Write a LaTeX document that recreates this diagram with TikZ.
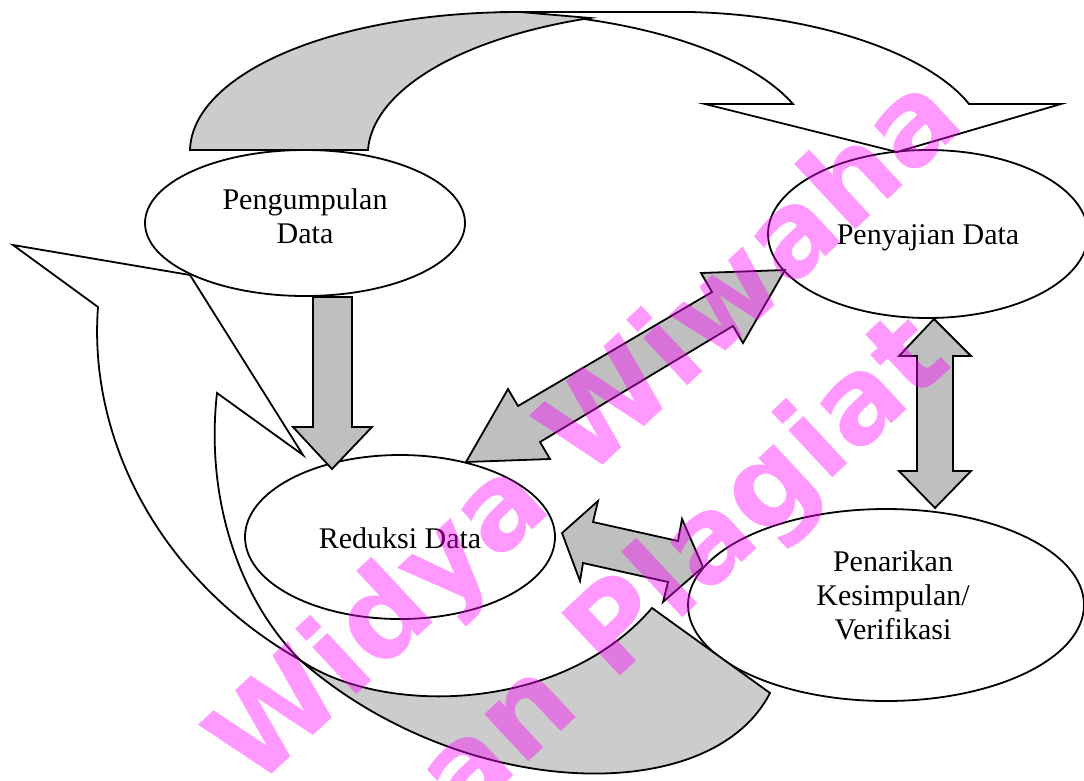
\documentclass[tikz,border=0pt]{standalone}
\usepackage{fontspec}
\setmainfont{Liberation Serif}
\newfontfamily\tandafont{DejaVu Sans}
\usetikzlibrary{shapes.geometric}
\definecolor{merahmuda}{RGB}{255,0,255}

\begin{document}
\begin{tikzpicture}[x=1pt,y=-1pt,
  proses/.style={ellipse, draw, line width=1.8pt, fill=white, inner sep=0pt},
  teks/.style={align=center, font=\fontsize{30}{34}\selectfont},
  blok/.style={draw, line width=1.8pt, fill=black!25, line join=miter},
  lengkung/.style={draw, line width=1.8pt, fill=black!20},
  tanda/.style={text=merahmuda, text opacity=0.4, rotate=43, font=\tandafont\bfseries\fontsize{118}{124}\selectfont}]
\useasboundingbox (0,0) rectangle (1084,780);
\clip (0,0) rectangle (1084,780);

  \node[proses, minimum width=320pt, minimum height=146pt] (kumpul) at (305,223) {};
  \node[proses, minimum width=320pt, minimum height=168pt] (saji) at (928,234) {};
  \node[proses, minimum width=310pt, minimum height=164pt] (reduksi) at (400,537) {};
  \node[proses, minimum width=396pt, minimum height=192pt] (tarik) at (886,605) {};

  \path[lengkung, fill=white] (500,12) -- (690,12) .. controls (820,15) and (930,55) .. (969,104) -- (1061,104) -- (897,152) -- (705,104) -- (793,104) .. controls (745,50) and (630,16) .. (500,12) -- cycle;
  \path[lengkung] (190,150) .. controls (192,75) and (330,12) .. (520,12) -- (590,18) .. controls (450,40) and (372,95) .. (368,150) -- cycle;

  \path[lengkung, fill=white] (98,307) -- (13,245) -- (190,275) -- (303,455) -- (217,393) .. controls (205,500) and (240,600) .. (300,660) .. controls (160,580) and (88,440) .. (98,307) -- cycle;
  \path[lengkung] (300,660) .. controls (380,715) and (560,715) .. (652,608) -- (770,693) .. controls (710,810) and (460,800) .. (300,660) -- cycle;

  \path[blok] (313,297) -- (352,297) -- (352,427) -- (372,427) -- (332,469) -- (293,427) -- (313,427) -- cycle;
  \path[blok] (466,462) -- (508,389) -- (518,406) -- (712,292) -- (701,273) -- (785,270) -- (743,343) -- (733,326) -- (540,442) -- (550,459) -- cycle;
  \path[blok] (934,319) -- (971,356) -- (953,356) -- (953,471) -- (971,471) -- (935,508) -- (899,471) -- (917,471) -- (917,356) -- (899,356) -- cycle;
  \path[blok] (562,533) -- (598,501) -- (593,522) -- (678,541) -- (682,519) -- (703,567) -- (663,602) -- (668,582) -- (583,563) -- (580,581) -- cycle;

  \node[teks] (tkumpul) at (305,216) {Pengumpulan\\Data};
  \node[teks] (tsaji) at (928,238) {Penyajian Data};
  \node[teks] (treduksi) at (400,538) {Reduksi Data};
  \node[teks] (ttarik) at (893,595) {Penarikan\\Kesimpulan/\\Verifikasi};

  \node[tanda] (tanda1) at (589,434) {Widya Wiwaha};
  \node[tanda] (tanda2) at (580,670) {Jangan Plagiat};
\end{tikzpicture}
\end{document}
